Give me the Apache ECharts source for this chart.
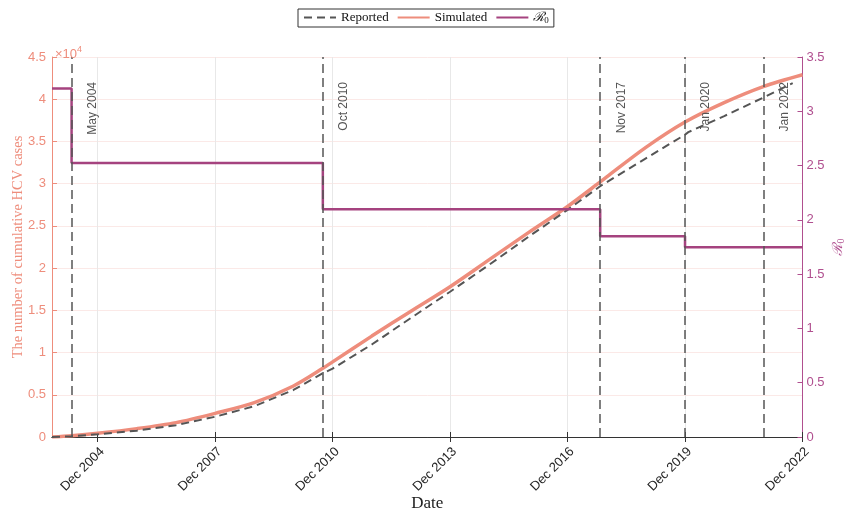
<!DOCTYPE html>
<html><head><meta charset="utf-8">
<script src="https://cdn.jsdelivr.net/npm/echarts@6/dist/echarts.min.js"></script>
<style>html,body{margin:0;padding:0;background:#fff}#c{width:844px;height:516px}</style>
</head><body><div id="c"></div>
<script>
// ---- data (dates as YYYY-MM) ----
const simDates = ['2003-10','2004-04','2004-12','2005-12','2006-12','2007-12','2008-12','2009-12','2010-09','2010-12','2011-12','2012-12','2013-12','2014-12','2015-12','2016-12','2017-10','2017-12','2018-12','2019-12','2020-12','2021-12','2022-12'];
const simValues = [0,150,440,990,1700,2800,4070,6040,8130,8900,11950,14900,17800,21000,24200,27300,30200,30800,34300,37300,39600,41500,42900];
const repDates = ['2003-10','2004-04','2004-12','2005-12','2006-12','2007-12','2008-12','2009-12','2010-09','2010-12','2011-12','2012-12','2013-12','2014-12','2015-12','2016-12','2017-10','2018-12','2019-12','2020-01','2020-12','2021-12','2022-09'];
const repValues = [0,100,320,750,1400,2400,3650,5570,7550,8100,10950,14100,17200,20400,23700,26900,29700,33000,35800,36100,38000,40200,41900];
const r0Dates = ['2003-10','2004-04','2010-09','2017-10','2019-12','2022-12'];
const r0Values = [3.21,2.523,2.097,1.848,1.747,1.747];
const eventDates = ['2004-04','2010-09','2017-10','2019-12','2021-12'];
const eventLabels = ['May 2004','Oct 2010','Nov 2017','Jan 2020','Jan 2022'];
const tickDates = ['2004-12','2007-12','2010-12','2013-12','2016-12','2019-12','2022-12'];
const tickLabels = ['Dec 2004','Dec 2007','Dec 2010','Dec 2013','Dec 2016','Dec 2019','Dec 2022'];
const xStart = '2003-10', xEnd = '2022-12';

function mi(s){ const p = s.split('-'); return (+p[0]-2000)*12 + (+p[1]-1); }
const pairs = (d, v) => d.map((x, i) => [mi(x), v[i]]);
const tickVals = tickDates.map(mi);

const SALMON = '#ee8d7c', PURPLE = '#a5437f', PURPLE_AX = '#b04f8f', DARK = '#555555';

const chart = echarts.init(document.getElementById('c'), null, {renderer:'canvas'});
chart.setOption({
  animation: false,
  title: {
    text: '{a|×10}{b|4}', left: 50, top: 40,
    textStyle: { fontWeight: 'normal', rich: {
      a: { fontSize: 13, color: SALMON, fontFamily: 'Liberation Sans', fontWeight: 'normal' },
      b: { fontSize: 9, color: SALMON, fontFamily: 'Liberation Sans', fontWeight: 'normal', padding: [0,0,9,0] }
    }}
  },
  legend: {
    top: 9, left: 298,
    orient: 'horizontal',
    padding: [2,5], itemGap: 8, itemWidth: 32, itemHeight: 12,
    borderColor: '#333', borderWidth: 1, borderRadius: 0,
    itemStyle: { opacity: 0 },
    data: ['Reported','Simulated','R0'],
    formatter: n => n === 'R0' ? '{r|ℛ}{s|0}' : n,
    textStyle: { fontFamily: 'Liberation Serif', fontSize: 13, color: '#111',
      rich: { r: { fontFamily: 'DejaVu Serif', fontStyle: 'italic', fontSize: 13, color: '#111' },
              s: { fontFamily: 'Liberation Serif', fontSize: 9, color: '#111', padding: [6,0,0,0] } } }
  },
  grid: { left: 52, right: 41.5, top: 57, bottom: 79, containLabel: false, outerBoundsMode: 'none' },
  xAxis: [{
    type: 'value', min: mi(xStart), max: mi(xEnd), position: 'bottom',
    name: 'Date', nameLocation: 'middle', nameGap: 58, nameMoveOverlap: false,
    nameTextStyle: { fontFamily: 'Liberation Serif', fontSize: 17, color: '#222' },
    axisLine: { show: true, lineStyle: { color: '#333', width: 1 } },
    axisTick: { show: true, inside: true, length: 5, customValues: tickVals, lineStyle: { color: '#333' } },
    axisLabel: { customValues: tickVals, rotate: 45, margin: 8, verticalAlign: 'top', fontFamily: 'Liberation Sans', fontSize: 13, color: '#262626',
      formatter: v => tickLabels[tickVals.indexOf(Math.round(v))] || '' },
    splitLine: { show: true, lineStyle: { color: '#e8e8e8', width: 1 } }
  },{
    type: 'value', min: mi(xStart), max: mi(xEnd), position: 'top',
    axisLine: { show: true, lineStyle: { color: '#333', width: 1 } },
    axisTick: { show: true, inside: true, length: 5, customValues: tickVals, lineStyle: { color: '#333' } },
    axisLabel: { show: false },
    splitLine: { show: false }
  }],
  yAxis: [{
    type: 'value', min: 0, max: 45000, interval: 5000, position: 'left',
    name: 'The number of cumulative HCV cases', nameLocation: 'middle', nameGap: 26, nameMoveOverlap: false,
    nameTextStyle: { fontFamily: 'Liberation Serif', fontSize: 14.5, color: SALMON },
    axisLine: { show: true, lineStyle: { color: SALMON, width: 1 } },
    axisTick: { show: true, inside: true, length: 5, lineStyle: { color: SALMON } },
    axisLabel: { margin: 6, fontFamily: 'Liberation Sans', fontSize: 13, color: SALMON, formatter: v => String(v/10000) },
    splitLine: { show: true, lineStyle: { color: '#fbe9e7', width: 1 } }
  },{
    type: 'value', min: 0, max: 3.5, interval: 0.5, position: 'right',
    name: '{r|ℛ}{s|0}', nameLocation: 'middle', nameGap: 28, nameMoveOverlap: false,
    nameTextStyle: { color: PURPLE_AX, rich: {
      r: { fontFamily: 'DejaVu Serif', fontStyle: 'italic', fontSize: 14, color: PURPLE_AX },
      s: { fontFamily: 'Liberation Serif', fontSize: 10, color: PURPLE_AX, padding: [6,0,0,0] } } },
    axisLine: { show: true, lineStyle: { color: PURPLE_AX, width: 1 } },
    axisTick: { show: true, inside: true, length: 5, lineStyle: { color: PURPLE_AX } },
    axisLabel: { margin: 4, fontFamily: 'Liberation Sans', fontSize: 13, color: PURPLE_AX },
    splitLine: { show: false }
  }],
  series: [{
    name: 'Reported', type: 'line', xAxisIndex: 0, yAxisIndex: 0,
    data: pairs(repDates, repValues), showSymbol: false, symbol: 'none', z: 3,
    lineStyle: { color: DARK, width: 2, type: [8,5] }, itemStyle: { color: DARK }
  },{
    name: 'Simulated', type: 'line', xAxisIndex: 0, yAxisIndex: 0, smooth: 0.3,
    data: pairs(simDates, simValues), showSymbol: false, symbol: 'none', z: 2,
    lineStyle: { color: SALMON, width: 3.5 }, itemStyle: { color: SALMON }
  },{
    name: 'R0', type: 'line', xAxisIndex: 0, yAxisIndex: 1, step: 'end',
    data: pairs(r0Dates, r0Values), showSymbol: false, symbol: 'none', z: 4,
    lineStyle: { color: PURPLE, width: 2.5 }, itemStyle: { color: PURPLE },
    markLine: {
      symbol: ['none','none'], silent: true, animation: false,
      lineStyle: { color: DARK, width: 1.5, type: [9,5] },
      label: { show: true, position: 'insideEndBottom', distance: [25, 15],
        fontFamily: 'Liberation Sans', fontSize: 12, color: '#555' },
      emphasis: { disabled: true },
      data: eventDates.map((d, i) => ({ xAxis: mi(d), label: { formatter: eventLabels[i] } }))
    }
  }]
});
</script></body></html>
